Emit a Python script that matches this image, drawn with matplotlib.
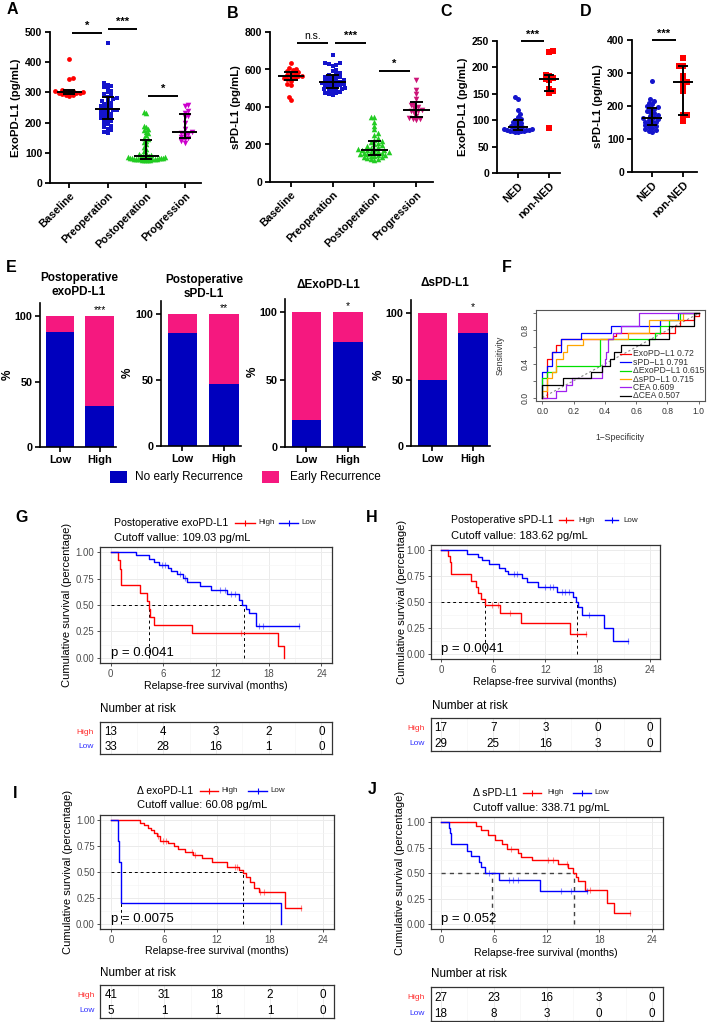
import numpy as np
import matplotlib
matplotlib.use("Agg")
import matplotlib.pyplot as plt
from matplotlib.patches import Rectangle

plt.rcParams['font.family'] = ['Liberation Sans', 'DejaVu Sans']

# ── A / B: exosomal and soluble PD-L1 by time point (pg/mL) ─────────────────────
AB_NAMES = ["Baseline", "Preoperation", "Postoperation", "Progression"]
A_BASE = [412, 348, 346, 308, 305, 303, 302, 300, 300, 299, 298, 297, 295, 293, 290, 288]
A_PRE = [465, 330, 326, 322, 318, 312, 305, 300, 295, 290, 285, 280, 277, 273, 270, 266,
         262, 258, 255, 252, 248, 245, 243, 241, 239, 236, 233, 230, 227, 224, 221, 218,
         215, 212, 209, 205, 200, 195, 190, 185, 180, 175, 170, 165]
A_POST = [235, 233, 190, 185, 180, 175, 170, 165, 158, 150, 145, 140, 135, 128, 120, 112,
          105, 100, 95, 92, 90, 88, 88, 87, 86, 86, 85, 84, 84, 83, 82, 82, 81, 80, 80, 79,
          79, 78, 78, 77, 76, 76, 75, 75]
A_PROG = [258, 255, 240, 232, 222, 218, 200, 180, 168, 166, 163, 158, 152, 148, 145, 140, 132]
A_SIG = [(0.08, 0.86, 497, "*"), (1.0, 1.75, 510, "***"), (2.05, 2.83, 288, "*")]

B_BASE = [636, 608, 602, 598, 590, 585, 580, 575, 570, 566, 563, 560, 556, 552, 548, 540,
          520, 515, 454, 437]
B_PRE = [677, 636, 632, 628, 624, 620, 598, 590, 582, 576, 570, 566, 562, 558, 554, 550,
         546, 542, 538, 535, 533, 530, 528, 525, 522, 518, 515, 512, 508, 505, 502, 498,
         495, 492, 488, 484, 480, 476, 472, 468, 464]
B_POST = [347, 345, 320, 300, 280, 262, 248, 235, 225, 218, 212, 206, 200, 195, 190, 186,
          182, 178, 175, 172, 170, 168, 165, 162, 160, 158, 155, 152, 150, 148, 146, 144,
          141, 138, 135, 132, 128, 124, 120, 117]
B_PROG = [545, 492, 470, 440, 412, 408, 400, 392, 383, 380, 376, 368, 350, 342, 338, 334, 328]
B_SIG = [(0.14, 0.89, 741, "n.s."), (1.05, 1.8, 741, "***"), (2.1, 2.85, 592, "*")]

# ── C / D: NED vs non-NED ───────────────────────────────────────────────────────
CD_NAMES = ["NED", "non-NED"]
C_NED = [143, 140, 120, 112, 106, 102, 100, 99, 97, 95, 93, 91, 89, 87, 86, 85, 84, 83, 83,
         82, 81, 81, 80, 80, 79, 79, 78, 78]
C_NON = [232, 230, 186, 184, 180, 178, 176, 160, 155, 152, 85]
D_NED = [275, 222, 215, 210, 205, 200, 196, 193, 190, 186, 182, 178, 174, 170, 166, 163,
         160, 158, 156, 153, 150, 147, 144, 141, 138, 135, 132, 130, 127, 124, 120]
D_NON = [345, 322, 320, 290, 273, 272, 256, 245, 173, 172, 156]

# ── E: early recurrence proportions (%) ────────────────────────────────────────
E_TITLES = ["Postoperative\nexoPD-L1", "Postoperative\nsPD-L1", "ΔExoPD-L1", "ΔsPD-L1"]
E_GROUPS = ["Low", "High"]
E_NO_EARLY = [[88, 31], [86, 47], [20, 78], [50, 85]]
E_SIG = ["***", "**", "*", "*"]

# ── F: ROC curves ──────────────────────────────────────────────────────────────
ROC_LABELS = ["ExoPD−L1 0.72", "sPD−L1 0.791", "ΔExoPD−L1 0.615", "ΔsPD−L1 0.715",
              "CEA 0.609", "ΔCEA 0.507"]
ROC_COLORS = ["#FF0000", "#0000FF", "#00E000", "#FFA500", "#A020F0", "#000000"]
ROC_FPR = [
    [0, 0.03, 0.03, 0.06, 0.06, 0.09, 0.09, 0.12, 0.12, 0.45, 0.45, 0.47, 0.47, 0.85, 0.85, 0.88, 0.88, 0.97, 0.97, 1.0, 1.0],
    [0, 0, 0.03, 0.03, 0.06, 0.06, 0.12, 0.12, 0.25, 0.25, 0.44, 0.44, 0.75, 0.75, 0.87, 0.87, 1.0],
    [0, 0, 0.03, 0.03, 0.09, 0.09, 0.37, 0.37, 0.72, 0.72, 0.75, 0.75, 0.81, 0.81, 0.88, 0.88, 1.0],
    [0, 0, 0.03, 0.03, 0.06, 0.06, 0.09, 0.09, 0.13, 0.13, 0.16, 0.16, 0.26, 0.26, 0.55, 0.55, 0.68, 0.68, 0.9, 0.9, 1.0],
    [0, 0.09, 0.09, 0.15, 0.15, 0.19, 0.19, 0.38, 0.38, 0.40, 0.40, 0.41, 0.41, 0.42, 0.42, 0.45, 0.45, 0.50, 0.50, 0.62, 0.62, 1.0],
    [0, 0, 0.13, 0.13, 0.31, 0.31, 0.38, 0.38, 0.43, 0.43, 0.46, 0.46, 0.50, 0.50, 0.68, 0.68, 0.81, 0.81, 0.97, 0.97, 1.0],
]
ROC_TPR = [
    [0, 0, 0.46, 0.46, 0.54, 0.54, 0.62, 0.62, 0.69, 0.69, 0.73, 0.73, 0.77, 0.77, 0.85, 0.85, 0.92, 0.92, 0.97, 0.97, 1.0],
    [0, 0.31, 0.31, 0.38, 0.38, 0.54, 0.54, 0.69, 0.69, 0.77, 0.77, 0.85, 0.85, 0.92, 0.92, 1.0, 1.0],
    [0, 0.23, 0.23, 0.31, 0.31, 0.38, 0.38, 0.69, 0.69, 0.77, 0.77, 0.85, 0.85, 0.92, 0.92, 1.0, 1.0],
    [0, 0.08, 0.08, 0.23, 0.23, 0.31, 0.31, 0.46, 0.46, 0.54, 0.54, 0.62, 0.62, 0.69, 0.69, 0.77, 0.77, 0.92, 0.92, 1.0, 1.0],
    [0, 0, 0.08, 0.08, 0.15, 0.15, 0.23, 0.23, 0.38, 0.38, 0.46, 0.46, 0.54, 0.54, 0.69, 0.69, 0.77, 0.77, 0.85, 0.85, 1.0, 1.0],
    [0, 0.15, 0.15, 0.23, 0.23, 0.31, 0.31, 0.38, 0.38, 0.46, 0.46, 0.54, 0.54, 0.62, 0.62, 0.69, 0.69, 0.85, 0.85, 1.0, 1.0],
]

# ── G–J: Kaplan–Meier (event times, survival after event, last time, censor times)
G_HI_T = [0.85, 1.05, 1.2, 3.3, 4.1, 4.35, 4.5, 5.0, 9.3, 19.1, 19.75]
G_HI_S = [0.923, 0.846, 0.692, 0.615, 0.538, 0.462, 0.385, 0.308, 0.231, 0.115, 0.0]
G_HI_END, G_HI_C = 19.75, [14.8]
G_LO_T = [2.9, 4.4, 5.0, 5.5, 6.5, 6.9, 7.6, 8.2, 8.7, 10.2, 11.4, 13.3, 14.6, 15.0, 15.4, 15.7, 16.5]
G_LO_S = [0.97, 0.94, 0.91, 0.88, 0.85, 0.82, 0.79, 0.76, 0.72, 0.68, 0.64, 0.60, 0.55, 0.50, 0.46, 0.42, 0.30]
G_LO_END, G_LO_C = 21.5, [5.8, 6.2, 7.9, 8.5, 12.5, 13.0, 13.7, 14.2, 16.9, 17.3, 21.5]
G_RISK = ([13, 4, 3, 2, 0], [33, 28, 16, 1, 0])

H_HI_T = [0.85, 1.05, 1.15, 3.4, 4.0, 4.3, 4.6, 5.1, 6.8, 9.2, 14.8]
H_HI_S = [0.94, 0.88, 0.765, 0.706, 0.647, 0.588, 0.529, 0.47, 0.39, 0.295, 0.19]
H_HI_END, H_HI_C = 16.7, [5.9, 6.6, 7.9, 15.6, 16.7]
H_LO_T = [2.95, 4.3, 4.7, 5.5, 6.7, 7.4, 7.7, 9.3, 9.9, 11.2, 13.4, 15.2, 15.5, 15.8, 16.2, 18.8, 19.8]
H_LO_S = [0.965, 0.93, 0.90, 0.865, 0.83, 0.80, 0.77, 0.73, 0.69, 0.64, 0.60, 0.55, 0.50, 0.45, 0.375, 0.25, 0.125]
H_LO_END, H_LO_C = 21.5, [8.4, 8.8, 12.0, 12.5, 12.9, 13.9, 14.3, 14.7, 17.0, 21.5]
H_RISK = ([17, 7, 3, 0, 0], [29, 25, 16, 3, 0])

I_HI_T = [3.3, 3.7, 4.2, 4.5, 4.9, 5.2, 5.5, 6.5, 7.1, 7.6, 8.4, 9.3, 10.3, 11.4, 13.1, 14.5,
          14.9, 15.3, 15.7, 16.2, 16.7, 19.7]
I_HI_S = [0.975, 0.95, 0.925, 0.90, 0.875, 0.85, 0.80, 0.775, 0.75, 0.72, 0.69, 0.66, 0.63,
          0.60, 0.55, 0.52, 0.49, 0.45, 0.40, 0.35, 0.31, 0.155]
I_HI_END, I_HI_C = 21.5, [5.3, 5.9, 6.2, 9.2, 9.5, 14.0, 14.3, 16.9, 17.3, 21.5]
I_LO_T = [0.75, 0.95, 1.1, 19.2]
I_LO_S = [0.8, 0.6, 0.2, 0.0]
I_LO_END, I_LO_C = 19.2, []
I_RISK = ([41, 31, 18, 2, 0], [5, 1, 1, 1, 0])

J_HI_T = [3.98, 4.6, 5.3, 6.1, 6.9, 7.5, 8.8, 9.1, 10.3, 13.3, 14.5, 15.0, 15.3, 15.6, 16.4, 18.9, 19.7]
J_HI_S = [0.96, 0.92, 0.87, 0.82, 0.78, 0.74, 0.70, 0.66, 0.625, 0.585, 0.545, 0.50, 0.46,
          0.42, 0.33, 0.21, 0.11]
J_HI_END, J_HI_C = 21.5, [8.0, 12.2, 12.7, 14.3, 16.9, 21.5]
J_LO_T = [0.85, 1.0, 1.1, 2.9, 3.4, 4.3, 4.5, 5.0, 6.6, 11.3]
J_LO_S = [0.94, 0.89, 0.78, 0.72, 0.67, 0.61, 0.56, 0.50, 0.43, 0.325]
J_LO_END, J_LO_C = 16.6, [5.5, 7.7, 8.2, 8.7, 13.6, 14.8, 16.6]
J_RISK = ([27, 23, 16, 3, 0], [18, 8, 3, 0, 0])

RISK_T = [0, 6, 12, 18, 24]

BLUE_BAR, PINK_BAR = "#0000BE", "#F5187F"
W, H = 708, 1022
fig = plt.figure(figsize=(W / 100, H / 100), dpi=100)


def px_axes(l, t, r, b):
    return fig.add_axes([l / W, 1 - b / H, (r - l) / W, (b - t) / H])


def swarm_offsets(vals, ppu, ppc, d=3.6, lim=0.45):
    vals = np.asarray(vals, float)
    ypx = vals * ppu
    xs = np.full(len(vals), np.nan)
    step = d * 0.5
    for n, i in enumerate(np.argsort(ypx)):
        cands = [0.0]
        for k in range(1, 80):
            cands += [k * step, -k * step] if n % 2 == 0 else [-k * step, k * step]
        done = ~np.isnan(xs)
        for c in cands:
            dx = xs[done] - c
            dy = ypx[done] - ypx[i]
            if np.all(dx * dx + dy * dy >= d * d):
                xs[i] = c
                break
    off = xs / ppc
    wide = np.abs(off).max()
    if wide > lim:
        off = off * lim / wide
    return off


def prism_style(ax, lw=1.3):
    for s in ("top", "right"):
        ax.spines[s].set_visible(False)
    for s in ("left", "bottom"):
        ax.spines[s].set_linewidth(lw)
    ax.tick_params(direction="out", length=3.5, width=lw, pad=2)


def scatter_panel(box, groups, names, colors, markers, sizes, ymax, ystep, ylabel, xlim,
                  sig, ppc, lims):
    ax = px_axes(*box)
    ppu = (box[3] - box[1]) / ymax
    for i, (v, c, m, s, lim) in enumerate(zip(groups, colors, markers, sizes, lims)):
        off = swarm_offsets(v, ppu, ppc, lim=lim)
        ax.scatter(i + off, v, s=s, marker=m, color=c, lw=0, zorder=2, clip_on=False)
        q1, md, q3 = np.percentile(v, [25, 50, 75], method="weibull")
        kw = dict(color="k", lw=1.4, zorder=3, solid_capstyle="butt")
        ax.plot([i - 0.32, i + 0.32], [md, md], **kw)
        ax.plot([i, i], [q1, q3], **kw)
        for q in (q1, q3):
            ax.plot([i - 0.16, i + 0.16], [q, q], **kw)
    for x0, x1, y, txt in sig:
        ax.plot([x0, x1], [y, y], color="k", lw=1.4, clip_on=False, solid_capstyle="butt")
        ax.text((x0 + x1) / 2, y + ymax * 0.012, txt, ha="center", va="bottom",
                fontsize=7.5 if txt == "n.s." else 8,
                fontweight="normal" if txt == "n.s." else "bold")
    ax.set_xlim(*xlim)
    ax.set_ylim(0, ymax)
    yt = np.arange(0, ymax + 1, ystep)
    ax.set_yticks(yt)
    ax.set_yticklabels([str(int(t)) for t in yt], fontweight="bold", fontsize=7.5)
    ax.set_xticks(range(len(names)))
    ax.set_xticklabels(names, rotation=45, ha="right", rotation_mode="anchor",
                       fontweight="bold", fontsize=7.8)
    ax.set_ylabel(ylabel, fontweight="bold", fontsize=8.2, labelpad=3)
    prism_style(ax)
    return ax


RED, BLUE, GREEN, PURPLE, CRIMSON = "#FF0000", "#1414CC", "#22CC22", "#CC00CC", "#CC1477"
scatter_panel((50, 32, 201, 183), [A_BASE, A_PRE, A_POST, A_PROG], AB_NAMES,
              [RED, BLUE, GREEN, PURPLE], ["o", "s", "^", "v"], [12, 11, 16, 16],
              500, 100, "ExoPD-L1 (pg/mL)", (-0.5, 3.42), A_SIG, 38.7,
              [0.36, 0.36, 0.48, 0.36])
scatter_panel((270, 32, 433, 182), [B_BASE, B_PRE, B_POST, B_PROG], AB_NAMES,
              [RED, BLUE, GREEN, CRIMSON], ["o", "s", "^", "v"], [12, 11, 16, 16],
              800, 200, "sPD-L1 (pg/mL)", (-0.5, 3.4), B_SIG, 41.7,
              [0.36, 0.4, 0.42, 0.32])
scatter_panel((497, 41, 560, 173), [C_NED, C_NON], CD_NAMES, [BLUE, RED], ["o", "s"],
              [13, 13], 250, 50, "ExoPD-L1 (pg/mL)", (-0.68, 1.35),
              [(0.1, 0.84, 250, "***")], 31, [0.45, 0.4])
scatter_panel((632, 40, 697, 172), [D_NED, D_NON], CD_NAMES, [BLUE, RED], ["o", "s"],
              [13, 13], 400, 100, "sPD-L1 (pg/mL)", (-0.65, 1.45),
              [(0.0, 0.77, 400, "***")], 31, [0.4, 0.4])

# ── E: stacked bars ────────────────────────────────────────────────────────────
E_BOXES = [(40, 303, 116, 447), (161, 301, 241, 446), (285, 299, 365, 447), (411, 300, 490, 446)]
for box, blue, sig in zip(E_BOXES, E_NO_EARLY, E_SIG):
    ax = px_axes(*box)
    blue = np.asarray(blue, float)
    ax.bar(range(2), blue, width=0.72, color=BLUE_BAR, lw=0, zorder=2)
    ax.bar(range(2), 100 - blue, bottom=blue, width=0.72, color=PINK_BAR, lw=0, zorder=2)
    ax.text(1, 101, sig, ha="center", va="bottom", fontsize=7.5)
    ax.set_xlim(-0.52, 1.42)
    ax.set_ylim(0, 110)
    ax.set_yticks([0, 50, 100])
    ax.set_yticklabels(["0", "50", "100"], fontweight="bold", fontsize=7.8)
    ax.set_xticks(range(2))
    ax.set_xticklabels(E_GROUPS, fontweight="bold", fontsize=8)
    prism_style(ax, 1.2)

# ── F: ROC ─────────────────────────────────────────────────────────────────────
ax = px_axes(536, 310, 705, 401)
ax.plot([0, 1], [0, 1], color="#888888", ls=(0, (2, 2)), lw=0.8)
for fx, ty, c in zip(ROC_FPR, ROC_TPR, ROC_COLORS):
    ax.plot(fx, ty, color=c, lw=0.9)
ax.set_xlim(-0.04, 1.04)
ax.set_ylim(-0.04, 1.04)
ax.set_xticks(np.arange(0, 1.01, 0.2))
ax.set_xticklabels(["0.0", "0.2", "0.4", "0.6", "0.8", "1.0"], fontsize=6.2, color="#333")
ax.set_yticks(np.arange(0, 1.01, 0.2))
ax.set_yticklabels(["0.0", "", "0.4", "", "0.8", ""], fontsize=6.2, color="#333",
                   rotation=90, va="center")
ax.tick_params(length=2.5, width=0.6, color="#555", pad=2)
for sp in ax.spines.values():
    sp.set_color("#555")
    sp.set_linewidth(0.8)

# ── G–J: Kaplan–Meier panels ───────────────────────────────────────────────────


def km_median(t, s):
    t, s = np.asarray(t), np.asarray(s)
    i = int(np.argmax(s <= 0.5))
    if s[i] == 0.5 and i + 1 < len(t):
        return (t[i] + t[i + 1]) / 2
    return t[i]


def km_panel(box, tbox, curves, risk, pval, dcol, dlw):
    ax = px_axes(*box)
    ax.set_xlim(-1.2, 25.2)
    ax.set_ylim(-0.05, 1.05)
    ax.set_xticks(RISK_T)
    ax.set_xticks([3, 9, 15, 21], minor=True)
    ax.set_yticks([0, 0.25, 0.5, 0.75, 1.0])
    ax.set_yticks([0.125, 0.375, 0.625, 0.875], minor=True)
    ax.set_yticklabels(["0.00", "0.25", "0.50", "0.75", "1.00"])
    ax.grid(which="major", color="#EBEBEB", lw=0.7)
    ax.grid(which="minor", color="#F4F4F4", lw=0.4)
    ax.set_axisbelow(True)
    ax.tick_params(which="minor", length=0)
    ax.tick_params(which="major", length=2.5, width=0.6, color="#333", labelsize=6.9,
                   labelcolor="#4D4D4D", pad=1.5)
    for sp in ax.spines.values():
        sp.set_color("#333333")
        sp.set_linewidth(0.9)
    meds = []
    for t, s, end, cens, col in curves:
        ax.step(np.r_[0, t, end], np.r_[1, s, s[-1]], where="post", color=col, lw=1.0, zorder=3)
        if len(cens):
            lev = np.r_[1, s][np.searchsorted(t, cens, side="right")]
            ax.plot(cens, lev, ls="none", marker="|", ms=5, mew=0.8, color=col, alpha=0.45,
                    zorder=3)
        meds.append(km_median(t, s))
    dash = dict(color=dcol, ls=(0, (3, 3)), lw=dlw, zorder=2)
    ax.plot([0, max(meds)], [0.5, 0.5], **dash)
    for m in meds:
        ax.plot([m, m], [0, 0.5], **dash)
    ax.text(0, 0.045, pval, fontsize=9.5, ha="left", va="center")

    tx = px_axes(*tbox)
    tx.set_xlim(-1.2, 25.2)
    tx.set_ylim(-0.47, 1.67)
    tx.set_xticks(RISK_T)
    tx.set_xticks([3, 9, 15, 21], minor=True)
    tx.set_yticks([])
    tx.grid(which="major", axis="x", color="#EBEBEB", lw=0.7)
    tx.grid(which="minor", axis="x", color="#F4F4F4", lw=0.4)
    tx.tick_params(which="both", length=0, labelbottom=False)
    for sp in tx.spines.values():
        sp.set_color("#333333")
        sp.set_linewidth(0.9)
    for y, vals, col, lab in ((1, risk[0], "#FF3030", "High"), (0, risk[1], "#3030FF", "Low")):
        for x, v in zip(RISK_T, vals):
            tx.text(x, y, str(v), ha="center", va="center", fontsize=8.4)
        tx.text(-0.025, y, lab, transform=tx.get_yaxis_transform(), ha="right",
                va="center", color=col, fontsize=6)


km_panel((100, 547, 332, 663), (100, 722, 332, 754),
         [(G_HI_T, G_HI_S, G_HI_END, G_HI_C, "red"), (G_LO_T, G_LO_S, G_LO_END, G_LO_C, "blue")],
         G_RISK, "p = 0.0041", "k", 0.7)
km_panel((430.6, 544.8, 660, 659.2), (430.6, 718, 660, 751),
         [(H_HI_T, H_HI_S, H_HI_END, H_HI_C, "red"), (H_LO_T, H_LO_S, H_LO_END, H_LO_C, "blue")],
         H_RISK, "p = 0.0041", "k", 0.7)
km_panel((100.4, 814.8, 333.6, 929.2), (100.4, 985, 333.6, 1018),
         [(I_HI_T, I_HI_S, I_HI_END, I_HI_C, "red"), (I_LO_T, I_LO_S, I_LO_END, I_LO_C, "blue")],
         I_RISK, "p = 0.0075", "k", 0.7)
km_panel((430.5, 816.9, 662.5, 929.1), (430.5, 987, 662.5, 1021),
         [(J_HI_T, J_HI_S, J_HI_END, J_HI_C, "red"), (J_LO_T, J_LO_S, J_LO_END, J_LO_C, "blue")],
         J_RISK, "p = 0.052", "#444444", 1.0)

# ── overlay for letters, titles, legends (pixel coordinates) ───────────────────
ov = fig.add_axes([0, 0, 1, 1])
ov.set_xlim(0, W)
ov.set_ylim(H, 0)
ov.axis("off")

for lab, x, y in [("A", 12, 10), ("B", 233, 14), ("C", 446, 12), ("D", 586, 12),
                  ("E", 11, 267), ("F", 507, 267), ("G", 22, 518), ("H", 372, 518),
                  ("I", 15, 793), ("J", 372, 790)]:
    ov.text(x, y, lab, fontsize=11.5, fontweight="bold", ha="center", va="center")

for txt, x, y in zip(E_TITLES, [79, 204, 328, 445], [285, 287, 285, 283]):
    ov.text(x, y, txt, fontsize=8.5, fontweight="bold", ha="center", va="center",
            linespacing=1.15)
for x, y in zip([8, 128, 253, 379], [375, 373, 372, 375]):
    ov.text(x, y, "%", fontsize=8.5, fontweight="bold", ha="center", va="center",
            rotation=90)

ov.add_patch(Rectangle((110, 471), 17, 12, color=BLUE_BAR, lw=0))
ov.text(135, 477, "No early Recurrence", fontsize=8.5, va="center")
ov.add_patch(Rectangle((262, 471), 17, 12, color=PINK_BAR, lw=0))
ov.text(290, 477, "Early Recurrence", fontsize=8.5, va="center")

# ROC legend and axis labels
for k, (lab, c) in enumerate(zip(ROC_LABELS, ROC_COLORS)):
    y = 354 + k * 8.35
    ov.plot([620, 631], [y, y], color=c, lw=0.9)
    ov.text(633, y, lab, fontsize=6.2, va="center", color="#333")
ov.text(620, 438, "1−Specificity", fontsize=6.2, ha="center", va="center", color="#333")
ov.text(500, 355, "Sensitivity", fontsize=6.2, ha="center", va="center", rotation=90,
        color="#333")

# KM headers
KM_HEAD = [
    ("Postoperative exoPD-L1", "Cutoff vallue: 109.03 pg/mL", 114, 523, 538,
     (235, 255, 258), (279, 298, 301)),
    ("Postoperative sPD-L1", "Cutoff vallue: 183.62 pg/mL", 451, 520, 536,
     (559, 573, 578), (605, 618, 623)),
    ("Δ exoPD-L1", "Cutoff vallue: 60.08 pg/mL", 137, 791, 805,
     (200, 218, 221), (248, 267, 270)),
    ("Δ sPD-L1", "Cutoff vallue: 338.71 pg/mL", 473, 793, 808,
     (523, 541, 547), (573, 591, 594)),
]
for title, cut, x, yt, yc, hi, lo in KM_HEAD:
    ov.text(x, yt, title, fontsize=7.6, va="center")
    ov.text(x, yc, cut, fontsize=8, va="center")
    for (x0, x1, xt), col, lab in ((hi, "red", "High"), (lo, "blue", "Low")):
        ov.plot([x0, x1], [yt, yt], color=col, lw=1.0)
        ov.plot([(x0 + x1) / 2], [yt], marker="|", ms=5, mew=0.8, color=col)
        ov.text(xt, yt, lab, fontsize=5.8, va="center", color="#222")

# KM axis labels and "Number at risk"
for xl, yl, xc, ycx, nx, ny in [(67, 605, 216, 686, 100, 709),
                                (402, 602, 545, 682, 432, 706),
                                (68, 872, 217, 951, 100, 973),
                                (400, 873, 546, 953, 431, 974)]:
    ov.text(xl, yl, "Cumulative survival (percentage)", fontsize=8, rotation=90,
            ha="center", va="center")
    ov.text(xc, ycx, "Relapse-free survival (months)", fontsize=7.6, ha="center",
            va="center")
    ov.text(nx, ny, "Number at risk", fontsize=8.4, va="center")

fig.savefig("out.png", dpi=100)
